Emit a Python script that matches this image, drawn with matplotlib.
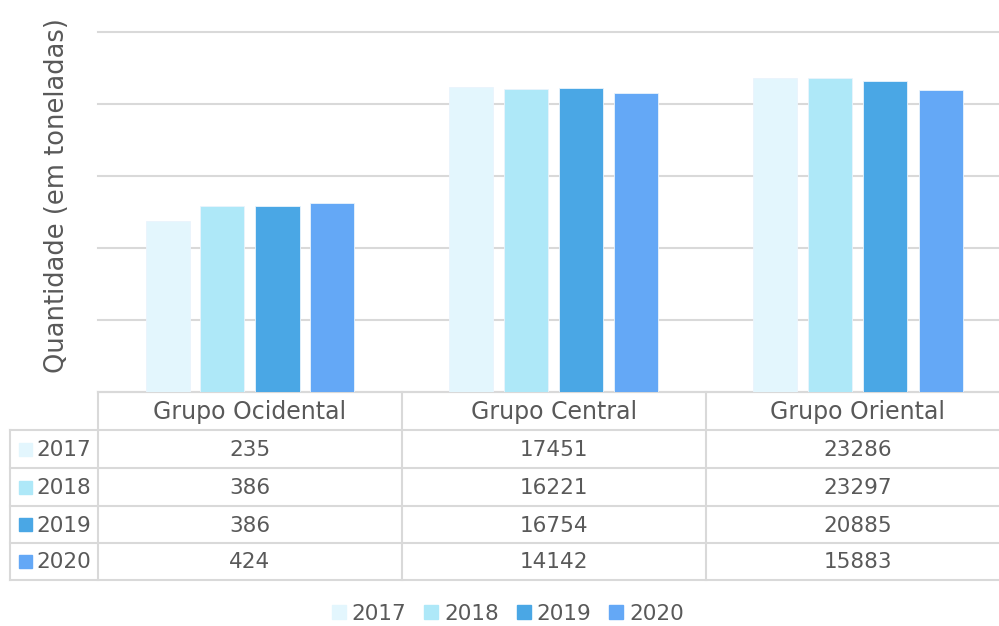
import numpy as np
import matplotlib
matplotlib.use('Agg')
import matplotlib.pyplot as plt
from matplotlib.lines import Line2D
from matplotlib.patches import Rectangle

# data
grupos = ['Grupo Ocidental', 'Grupo Central', 'Grupo Oriental']
anos = ['2017', '2018', '2019', '2020']
v2017 = [235, 17451, 23286]
v2018 = [386, 16221, 23297]
v2019 = [386, 16754, 20885]
v2020 = [424, 14142, 15883]
valores = [v2017, v2018, v2019, v2020]
cores = ['#E3F6FD', '#AEE8F8', '#4AA7E5', '#64A8F6']

txt = '#595959'
grid = '#D9D9D9'
W, H = 999, 626

def fx(x):
    return x / W

def fy(y):
    return 1 - y / H

fig = plt.figure(figsize=(W / 100, H / 100), dpi=100)
# axes spans past right edge, like the original (table is cut off)
ax = fig.add_axes([fx(98), fy(392), fx(1010 - 98), fy(32) - fy(392)])

x = np.arange(len(grupos))
gap = 55 / 304
bw = 44 / 304
for i, (ano, vals) in enumerate(zip(anos, valores)):
    ax.bar(x + (i - 1.5) * gap, vals, bw, color=cores[i], edgecolor='#EAF4FC',
           linewidth=0.6, zorder=3, label=ano)

ax.set_yscale('log')
ax.set_ylim(1, 1e5)
ax.set_xlim(-0.5, 2.5)
ax.set_yticks([1, 10, 100, 1000, 1e4, 1e5])
ax.yaxis.set_minor_locator(matplotlib.ticker.NullLocator())
ax.set_yticklabels([])
ax.tick_params(left=False, bottom=False, labelbottom=False)
ax.grid(axis='y', color=grid, linewidth=1.5, zorder=0)
for gl in ax.get_ygridlines():
    gl.set_clip_on(False)
for s in ['top', 'right', 'left']:
    ax.spines[s].set_visible(False)
ax.spines['bottom'].set_color(grid)
ax.spines['bottom'].set_linewidth(1.5)

fig.text(fx(57), fy(196), 'Quantidade (em toneladas)', rotation=90, ha='center',
         va='center', fontsize=18.5, color=txt)

# data table below
col_edges = [98, 402, 706, 1010]
row_edges = [392, 430, 468, 506, 543, 580]

def hline(y, x0, x1):
    fig.add_artist(Line2D([fx(x0), fx(x1)], [fy(y), fy(y)], color=grid, lw=1.5,
                          transform=fig.transFigure))

def vline(xp, y0, y1):
    fig.add_artist(Line2D([fx(xp), fx(xp)], [fy(y0), fy(y1)], color=grid, lw=1.5,
                          transform=fig.transFigure))

for y in row_edges[1:]:
    hline(y, 10, 1010)
for xp in col_edges:
    vline(xp, 392, 580)
vline(10, 430, 580)

for j, g in enumerate(grupos):
    cx = (col_edges[j] + col_edges[j + 1]) / 2
    fig.text(fx(cx), fy(412), g, ha='center', va='center', fontsize=17, color=txt)

for i, (ano, vals) in enumerate(zip(anos, valores)):
    cy = (row_edges[i + 1] + row_edges[i + 2]) / 2
    fig.add_artist(Rectangle((fx(19), fy(cy + 6.5)), fx(13), fy(0) - fy(13),
                             color=cores[i], transform=fig.transFigure))
    fig.text(fx(36), fy(cy + 1), ano, ha='left', va='center', fontsize=15.5, color=txt)
    for j, v in enumerate(vals):
        cx = (col_edges[j] + col_edges[j + 1]) / 2
        fig.text(fx(cx), fy(cy + 1), str(v), ha='center', va='center', fontsize=15.5,
                 color=txt)

# legend at bottom
handles = [Line2D([], [], marker='s', ls='', markersize=9.5, color=c) for c in cores]
leg = fig.legend(handles, anos, loc='center', bbox_to_anchor=(fx(507), fy(614)),
                 ncol=4, frameon=False, fontsize=15.5, handlelength=0.8,
                 handletextpad=0.2, columnspacing=0.75, labelcolor=txt)

fig.savefig('out.png', dpi=100)
